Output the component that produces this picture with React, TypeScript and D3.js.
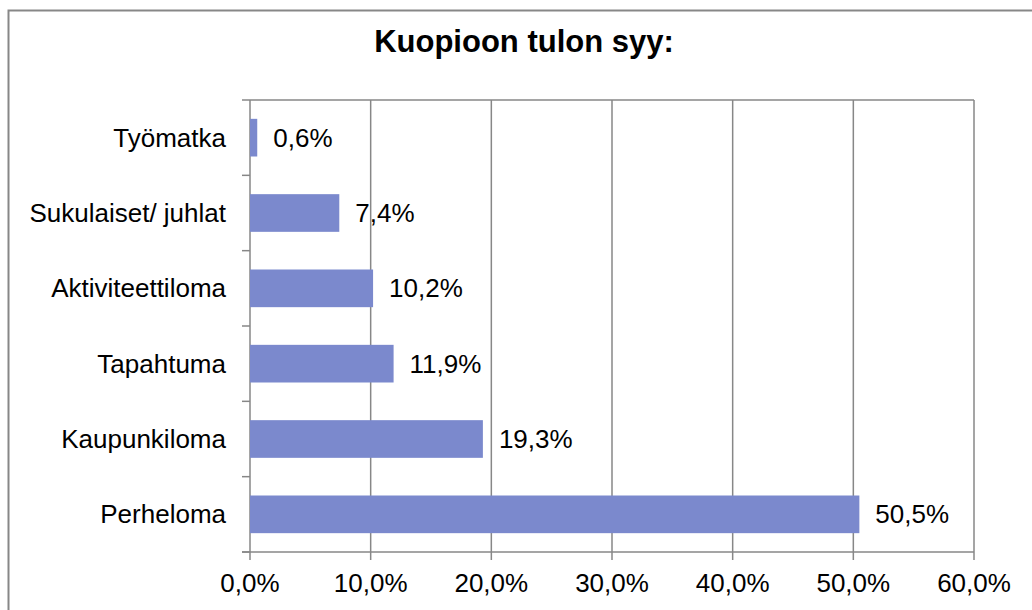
import React, { useEffect, useRef } from "react";
import * as d3 from "d3";

const categories = [
  "Työmatka",
  "Sukulaiset/ juhlat",
  "Aktiviteettiloma",
  "Tapahtuma",
  "Kaupunkiloma",
  "Perheloma",
];
const values = [0.6, 7.4, 10.2, 11.9, 19.3, 50.5];
const xTicks = [0, 10, 20, 30, 40, 50, 60];
const title = "Kuopioon tulon syy:";

const fmt = (v: number) => v.toFixed(1).replace(".", ",") + "%";

export default function App() {
  const svgRef = useRef<SVGSVGElement | null>(null);

  useEffect(() => {
    const svg = d3.select(svgRef.current);
    svg.selectAll("*").remove();

    const W = 1032;
    const H = 610;
    const left = 250;
    const right = 974;
    const top = 100;
    const bottom = 552;
    const font = "'Liberation Sans', Arial, sans-serif";
    const grey = "#878787";

    // outer chart border (open at right/bottom, cropped)
    svg
      .append("path")
      .attr("d", `M${W + 5},10.5 H8.5 V${H + 5}`)
      .attr("fill", "none")
      .attr("stroke", grey)
      .attr("stroke-width", 2);

    svg
      .append("text")
      .attr("x", 524)
      .attr("y", 52)
      .attr("text-anchor", "middle")
      .attr("font-family", font)
      .attr("font-weight", "bold")
      .attr("font-size", 31)
      .text(title);

    const x = d3.scaleLinear().domain([0, 60]).range([left, right]);
    const y = d3
      .scaleBand()
      .domain(categories)
      .range([top, bottom])
      .paddingInner(0.5)
      .paddingOuter(0.25);

    // gridlines
    svg
      .append("g")
      .selectAll("line")
      .data(xTicks)
      .enter()
      .append("line")
      .attr("x1", (d) => x(d))
      .attr("x2", (d) => x(d))
      .attr("y1", top)
      .attr("y2", bottom + 8)
      .attr("stroke", grey)
      .attr("stroke-width", 1.5);

    svg
      .append("line")
      .attr("x1", left)
      .attr("x2", right)
      .attr("y1", top)
      .attr("y2", top)
      .attr("stroke", grey)
      .attr("stroke-width", 1.5);

    svg
      .append("line")
      .attr("x1", left - 8)
      .attr("x2", right)
      .attr("y1", bottom)
      .attr("y2", bottom)
      .attr("stroke", grey)
      .attr("stroke-width", 1.5);

    // left axis ticks at band boundaries
    const step = (bottom - top) / categories.length;
    svg
      .append("g")
      .selectAll("line")
      .data(d3.range(categories.length + 1))
      .enter()
      .append("line")
      .attr("x1", left - 8)
      .attr("x2", left)
      .attr("y1", (i) => top + i * step)
      .attr("y2", (i) => top + i * step)
      .attr("stroke", grey)
      .attr("stroke-width", 1.5);

    // bars
    svg
      .append("g")
      .selectAll("rect")
      .data(values)
      .enter()
      .append("rect")
      .attr("x", x(0))
      .attr("y", (d, i) => y(categories[i])!)
      .attr("width", (d) => x(d) - x(0))
      .attr("height", y.bandwidth())
      .attr("fill", "#7b89cd");

    // value labels
    svg
      .append("g")
      .selectAll("text")
      .data(values)
      .enter()
      .append("text")
      .attr("x", (d) => x(d) + 16)
      .attr("y", (d, i) => y(categories[i])! + y.bandwidth() / 2)
      .attr("dy", "0.35em")
      .attr("font-family", font)
      .attr("font-size", 26)
      .text((d) => fmt(d));

    // category labels
    svg
      .append("g")
      .selectAll("text")
      .data(categories)
      .enter()
      .append("text")
      .attr("x", left - 24)
      .attr("y", (d) => y(d)! + y.bandwidth() / 2)
      .attr("dy", "0.35em")
      .attr("text-anchor", "end")
      .attr("font-family", font)
      .attr("font-size", 26)
      .text((d) => d);

    // x tick labels
    svg
      .append("g")
      .selectAll("text")
      .data(xTicks)
      .enter()
      .append("text")
      .attr("x", (d) => x(d))
      .attr("y", 592)
      .attr("text-anchor", "middle")
      .attr("font-family", font)
      .attr("font-size", 26)
      .text((d) => fmt(d));
  }, []);

  return (
    <div style={{ position: "absolute", left: 0, top: 0 }}>
      <svg ref={svgRef} width={1032} height={610} style={{ display: "block", background: "#fff" }} />
    </div>
  );
}
